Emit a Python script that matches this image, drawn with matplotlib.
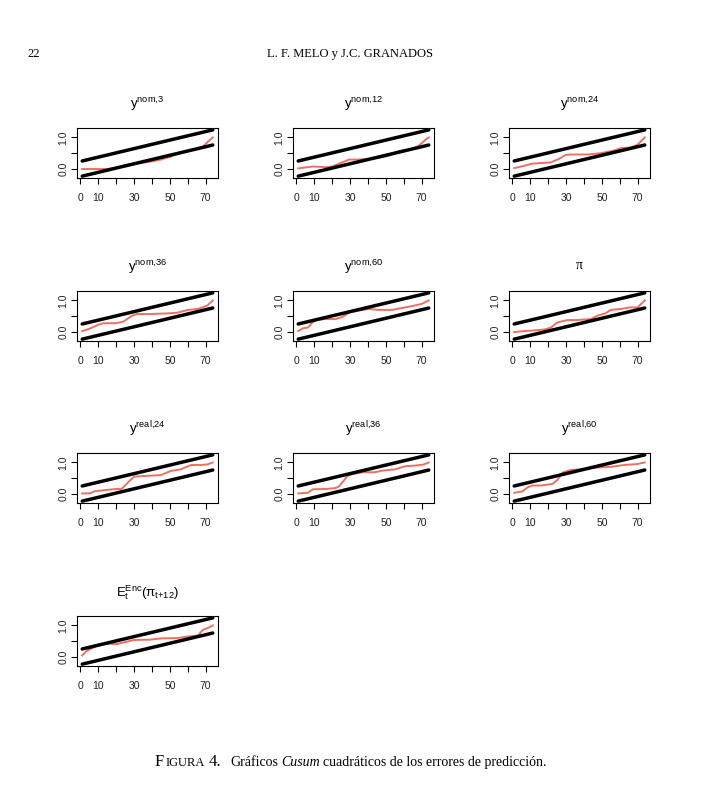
import matplotlib
matplotlib.use('Agg')
import matplotlib.pyplot as plt

plt.rcParams['font.family'] = ['Liberation Sans', 'DejaVu Sans']
plt.rcParams['mathtext.fontset'] = 'custom'
plt.rcParams['mathtext.rm'] = 'Liberation Sans'
plt.rcParams['mathtext.it'] = 'Liberation Sans:italic'
plt.rcParams['mathtext.bf'] = 'Liberation Sans:bold'

# ---------------- data ----------------
bound_x = [1, 74]
upper_bound = [0.255, 1.24]
lower_bound = [-0.225, 0.76]

ynom3_x = [1, 5, 10, 15, 20, 25, 30, 35, 40, 45, 50, 55, 60, 65, 68, 71, 74]
ynom3_y = [0.0, 0.0, 0.0, 0.0, 0.05, 0.12, 0.17, 0.2, 0.24, 0.3, 0.38, 0.5, 0.58, 0.62, 0.68, 0.85, 1.0]

ynom12_x = [1, 9, 16.6, 20, 29.5, 35, 40.5, 46, 51.6, 57, 64.5, 68, 72.7, 74]
ynom12_y = [0.02, 0.08, 0.06, 0.08, 0.3, 0.3, 0.32, 0.35, 0.42, 0.56, 0.63, 0.72, 0.95, 1.0]

ynom24_x = [1, 6.5, 11, 16, 21.5, 26, 30, 34.5, 42, 49.4, 57, 60.6, 66, 70, 74]
ynom24_y = [0.03, 0.1, 0.17, 0.19, 0.21, 0.32, 0.45, 0.46, 0.46, 0.5, 0.59, 0.66, 0.68, 0.77, 1.0]

ynom36_x = [1, 5.3, 10, 12.8, 20, 24, 29, 31.7, 39, 48.7, 54, 60, 65.7, 71, 74]
ynom36_y = [0.03, 0.11, 0.23, 0.28, 0.28, 0.33, 0.52, 0.57, 0.57, 0.59, 0.61, 0.7, 0.73, 0.84, 1.0]

ynom60_x = [1, 3.7, 6.4, 9.2, 12, 16.6, 22, 25.8, 29.5, 35, 40.5, 46, 53.4, 59, 64.5, 70, 74]
ynom60_y = [0.03, 0.12, 0.14, 0.32, 0.39, 0.41, 0.41, 0.48, 0.62, 0.68, 0.73, 0.7, 0.7, 0.76, 0.82, 0.89, 1.0]

pi_x = [1, 6.5, 12, 17.7, 21.5, 25, 30.8, 36, 43.8, 47.6, 52, 55, 60.6, 66, 70, 74]
pi_y = [0.0, 0.03, 0.05, 0.08, 0.14, 0.3, 0.38, 0.38, 0.41, 0.52, 0.59, 0.7, 0.73, 0.78, 0.78, 1.0]

yreal24_x = [1, 5.3, 8, 14.7, 20, 23, 27, 30, 35.5, 45, 50.5, 56, 62, 67.5, 71.3, 74]
yreal24_y = [0.02, 0.02, 0.09, 0.13, 0.16, 0.16, 0.39, 0.55, 0.57, 0.6, 0.73, 0.78, 0.92, 0.92, 0.94, 1.0]

yreal36_x = [1, 6.4, 9.2, 16.6, 22, 24, 26.7, 28.5, 31.3, 36.8, 44, 48, 55, 60.8, 66.3, 71, 74]
yreal36_y = [0.02, 0.04, 0.15, 0.16, 0.19, 0.25, 0.44, 0.57, 0.63, 0.69, 0.69, 0.74, 0.78, 0.88, 0.9, 0.93, 1.0]

yreal60_x = [1, 5.6, 8.4, 11.2, 16, 22.4, 25, 28, 32.6, 40, 47.6, 55, 62.5, 70, 74]
yreal60_y = [0.04, 0.08, 0.21, 0.27, 0.27, 0.32, 0.44, 0.68, 0.76, 0.79, 0.84, 0.86, 0.92, 0.95, 1.0]

enc_x = [1, 3.4, 6.2, 9, 14.7, 20.4, 24, 30, 39, 45, 54, 60, 65.7, 68.5, 71.3, 74]
enc_y = [0.05, 0.19, 0.27, 0.35, 0.43, 0.41, 0.46, 0.54, 0.55, 0.59, 0.6, 0.65, 0.68, 0.86, 0.92, 1.0]

titles = [r'$\mathrm{y}^{\mathrm{nom{,}3}}$', r'$\mathrm{y}^{\mathrm{nom{,}12}}$', r'$\mathrm{y}^{\mathrm{nom{,}24}}$',
          r'$\mathrm{y}^{\mathrm{nom{,}36}}$', r'$\mathrm{y}^{\mathrm{nom{,}60}}$', 'π',
          r'$\mathrm{y}^{\mathrm{real{,}24}}$', r'$\mathrm{y}^{\mathrm{real{,}36}}$', r'$\mathrm{y}^{\mathrm{real{,}60}}$',
          r'$\mathrm{E}_{\mathrm{t}}^{\mathrm{Enc}}(\mathrm{\pi}_{\mathrm{t{+}12}})$']
series_x = [ynom3_x, ynom12_x, ynom24_x, ynom36_x, ynom60_x, pi_x, yreal24_x, yreal36_x, yreal60_x, enc_x]
series_y = [ynom3_y, ynom12_y, ynom24_y, ynom36_y, ynom60_y, pi_y, yreal24_y, yreal36_y, yreal60_y, enc_y]

x_ticks = [0, 10, 20, 30, 40, 50, 60, 70]
x_ticklabels = ['0', '10', '', '30', '', '50', '', '70']
y_ticks = [0.0, 0.5, 1.0]
y_ticklabels = ['0.0', '', '1.0']

# ---------------- layout ----------------
W, H = 708, 791
fig = plt.figure(figsize=(W / 100, H / 100), dpi=100)
col_left = [77, 293, 509]
row_top = [128, 291, 453, 616]
pw, ph = 141, 50
red = '#EE7060'

for i, (sx, sy, title) in enumerate(zip(series_x, series_y, titles)):
    r, c = divmod(i, 3)
    left, top = col_left[c], row_top[r]
    ax = fig.add_axes([left / W, 1 - (top + ph) / H, pw / W, ph / H])
    ax.plot(sx, sy, color=red, lw=1.4, zorder=2)
    ax.plot(bound_x, upper_bound, color='black', lw=2.5, solid_capstyle='round', zorder=3)
    ax.plot(bound_x, lower_bound, color='black', lw=2.5, solid_capstyle='round', zorder=3)
    ax.margins(x=0.04, y=0.04)
    ax.set_xticks(x_ticks)
    ax.set_xticklabels(x_ticklabels)
    ax.set_yticks(y_ticks)
    ax.set_yticklabels(y_ticklabels, rotation=90, va='center')
    ax.tick_params(axis='both', direction='out', length=4, width=0.8, labelsize=7.5,
                   labelcolor='#222222')
    ax.tick_params(axis='x', pad=7)
    ax.tick_params(axis='y', pad=2)
    for s in ax.spines.values():
        s.set_linewidth(0.8)
    cx = (left + pw / 2) / W
    if title == 'π':
        fig.text(cx, 1 - (top - 22) / H, title, ha='center', va='baseline',
                 fontsize=10, family=['Liberation Serif', 'DejaVu Serif'])
    else:
        fig.text(cx, 1 - (top - 20) / H, title, ha='center', va='baseline', fontsize=9.5)

# header
serif = ['Liberation Serif', 'DejaVu Serif']
fig.text(27 / W, 1 - 57 / H, '22', ha='left', va='baseline', fontsize=9, family=serif)
fig.text(350 / W, 1 - 57 / H, 'L. F. MELO y J.C. GRANADOS', ha='center', va='baseline',
         fontsize=9, family=serif)

# caption with small caps
renderer = fig.canvas.get_renderer()
pieces = [('F', 12, 'normal', 0), ('IGURA', 9, 'normal', 1), ('4.', 12, 'normal', 4),
          ('Gráficos', 10, 'normal', 9), ('Cusum', 10, 'italic', 3),
          ('cuadráticos de los errores de predicción.', 10, 'normal', 3)]
xpx = 155
base_y = 1 - 766 / H
for txt, size, style, gap in pieces:
    xpx += gap
    t = fig.text(xpx / W, base_y, txt, ha='left', va='baseline', fontsize=size,
                 style=style, family=serif)
    bb = t.get_window_extent(renderer)
    xpx += bb.width

fig.savefig('out.png', dpi=100)
